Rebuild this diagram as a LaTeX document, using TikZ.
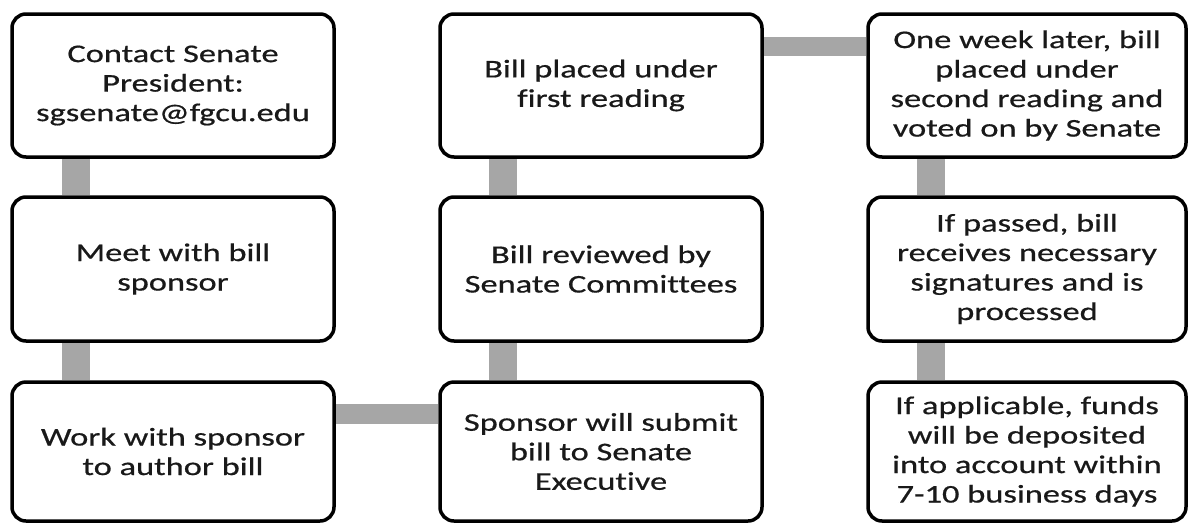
\documentclass[tikz,border=0pt]{standalone}
\usepackage{fontspec}
\setmainfont{Carlito}[FakeStretch=1.35, FakeBold=0.6, Ligatures=NoCommon]
\usetikzlibrary{backgrounds,calc}
\definecolor{barc}{RGB}{166,166,166}
\definecolor{txtc}{RGB}{25,25,25}
\begin{document}
\begin{tikzpicture}[x=1pt,y=-1pt,
  stepbox/.style={draw=black, line width=3.5pt, rounded corners=14pt, fill=white,
    align=center, text=txtc, font=\fontsize{25.5}{29.5}\selectfont, inner sep=0pt,
    minimum width=322pt},
  vconn/.style={draw=barc, line width=28pt},
  hconn/.style={draw=barc, line width=19.5pt}]
\useasboundingbox (0,0) rectangle (1189,523);
% column 1
\node[stepbox, minimum height=143pt] (contact) at (173,85.5) {Contact Senate\\President:\\sgsenate@fgcu.edu};
\node[stepbox, minimum height=144pt] (meet) at (173,269) {Meet with bill\\sponsor};
\node[stepbox, minimum height=139pt] (work) at (173,451.5) {Work with sponsor\\to author bill};
% column 2
\node[stepbox, minimum height=143pt] (first) at (601,85.5) {Bill placed under\\first reading};
\node[stepbox, minimum height=144pt] (review) at (601,269) {Bill reviewed by\\Senate Committees};
\node[stepbox, minimum height=139pt] (submit) at (601,451.5) {Sponsor will submit\\bill to Senate\\Executive};
% column 3
\node[stepbox, minimum width=318pt, minimum height=143pt] (second) at (1027,85.5) {One week later, bill\\placed under\\second reading and\\voted on by Senate};
\node[stepbox, minimum width=318pt, minimum height=144pt] (passed) at (1027,269) {If passed, bill\\receives necessary\\signatures and is\\processed};
\node[stepbox, minimum width=318pt, minimum height=139pt] (funds) at (1027,451.5) {If applicable, funds\\will be deposited\\into account within\\7-10 business days};
% connectors
\begin{pgfonlayer}{background}
\draw[vconn] ($(contact.south west)+(65.5,0)$) -- ($(meet.north west)+(65.5,0)$);
\draw[vconn] ($(meet.south west)+(65.5,0)$) -- ($(work.north west)+(65.5,0)$);
\draw[hconn] ($(work.north east)+(0,33.5)$) -- ($(submit.north west)+(0,33.5)$);
\draw[vconn] ($(submit.north west)+(64.5,0)$) -- ($(review.south west)+(64.5,0)$);
\draw[vconn] ($(review.north west)+(64.5,0)$) -- ($(first.south west)+(64.5,0)$);
\draw[hconn] ($(first.north east)+(0,34)$) -- ($(second.north west)+(0,34)$);
\draw[vconn] ($(second.south west)+(65,0)$) -- ($(passed.north west)+(65,0)$);
\draw[vconn] ($(passed.south west)+(65,0)$) -- ($(funds.north west)+(65,0)$);
\end{pgfonlayer}
\end{tikzpicture}
\end{document}
